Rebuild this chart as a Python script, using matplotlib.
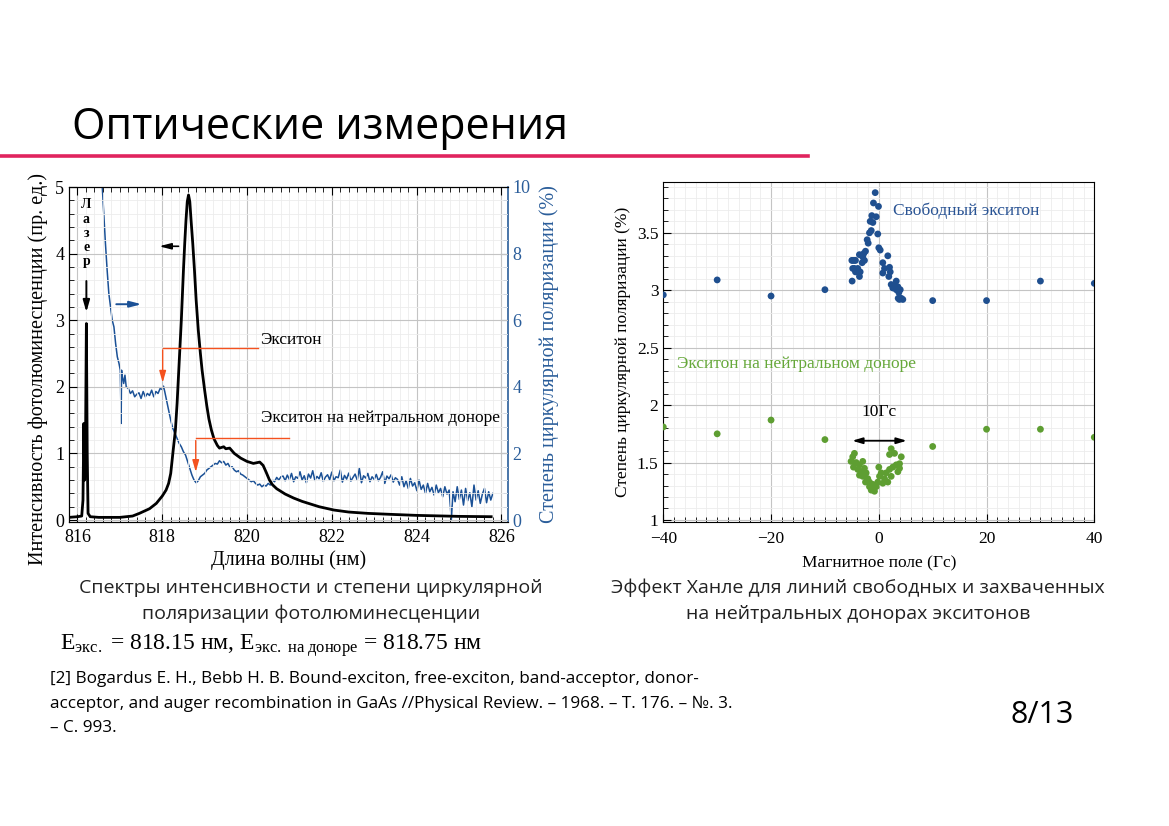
import numpy as np
import matplotlib
matplotlib.use('Agg')
import matplotlib.pyplot as plt
from matplotlib.ticker import MultipleLocator

SERIF = ['Liberation Serif', 'DejaVu Serif']
SANS = ['Open Sans', 'DejaVu Sans']

plt.rcParams['font.family'] = SERIF
plt.rcParams['mathtext.fontset'] = 'custom'
plt.rcParams['mathtext.rm'] = 'Liberation Serif'
plt.rcParams['mathtext.it'] = 'Liberation Serif:italic'
plt.rcParams['axes.unicode_minus'] = True

BLUE = '#1f4f8f'
GREEN = '#5e9e32'
ORANGE = '#f4511e'

# ---------- PL intensity spectrum (left axis) ----------
pl_wl = [815.8, 816.0, 816.1, 816.13, 816.15, 816.17, 816.19, 816.21, 816.23, 816.25,
         816.3, 816.5, 817.0, 817.3, 817.46, 817.7, 817.86, 818.0, 818.09, 818.15,
         818.2, 818.25, 818.31, 818.35, 818.39, 818.45, 818.5, 818.53, 818.56, 818.59,
         818.62, 818.65, 818.68, 818.72, 818.76, 818.8, 818.85, 818.9, 818.94, 819.0,
         819.05, 819.1, 819.16, 819.22, 819.3, 819.35, 819.45, 819.5, 819.59, 819.7,
         819.85, 820.0, 820.15, 820.3, 820.38, 820.45, 820.53, 820.6, 820.7, 820.8,
         820.9, 821.1, 821.3, 821.5, 821.7, 822.05, 822.4, 822.85, 823.4, 824.0,
         825.0, 825.76]
pl_int = [0.04, 0.05, 0.06, 0.3, 1.45, 0.6, 1.2, 2.95, 1.0, 0.1,
          0.05, 0.04, 0.04, 0.06, 0.1, 0.17, 0.25, 0.36, 0.45, 0.55,
          0.7, 1.0, 1.35, 1.75, 2.25, 3.0, 3.75, 4.15, 4.5, 4.78,
          4.88, 4.78, 4.5, 4.15, 3.75, 3.3, 2.85, 2.5, 2.25, 1.95,
          1.72, 1.52, 1.35, 1.22, 1.12, 1.08, 1.1, 1.07, 1.08, 1.0,
          0.93, 0.88, 0.85, 0.87, 0.82, 0.72, 0.6, 0.53, 0.47, 0.43,
          0.39, 0.33, 0.28, 0.24, 0.2, 0.15, 0.12, 0.1, 0.085, 0.07,
          0.055, 0.05]

# ---------- circular polarization degree (right axis, %) ----------
pol_wl_a = [816.55, 816.585, 816.62, 816.66, 816.70, 816.74, 816.78, 816.82, 816.86, 816.90,
            816.94, 816.98, 817.01, 817.03, 817.04, 817.06, 817.09, 817.12, 817.15, 817.2,
            817.25, 817.3, 817.35, 817.4, 817.45, 817.5, 817.55, 817.6, 817.65, 817.7,
            817.75, 817.8, 817.85, 817.9, 817.95, 818.0, 818.03, 818.06, 818.1, 818.15,
            818.2, 818.25, 818.3, 818.35, 818.4, 818.45, 818.5, 818.55, 818.6, 818.65,
            818.7, 818.75, 818.8, 818.85, 818.9, 818.95, 819.0, 819.05, 819.1, 819.15,
            819.2, 819.25, 819.3, 819.35, 819.4, 819.45, 819.5, 819.55, 819.6, 819.65,
            819.7, 819.75, 819.8, 819.85, 819.9, 819.95, 820.0, 820.05, 820.1, 820.15,
            820.2, 820.25, 820.3, 820.35, 820.4, 820.45, 820.5, 820.55, 820.6, 820.65,
            820.7, 820.75, 820.8]
pol_a = [10.6, 10.0, 9.2, 8.3, 7.5, 6.8, 6.4, 6.0, 5.8, 5.3,
         4.9, 4.7, 4.5, 2.9, 4.5, 4.3, 4.1, 4.35, 4.0, 3.95,
         3.8, 3.88, 3.7, 3.78, 3.82, 3.65, 3.86, 3.7, 3.8, 3.74,
         3.9, 3.7, 3.86, 3.8, 3.95, 3.92, 4.02, 3.85, 3.6, 3.3,
         3.0, 2.75, 2.6, 2.45, 2.3, 2.2, 2.05, 1.95, 1.75, 1.55,
         1.35, 1.2, 1.12, 1.18, 1.3, 1.35, 1.4, 1.5, 1.55, 1.6,
         1.65, 1.7, 1.68, 1.78, 1.72, 1.76, 1.65, 1.7, 1.58, 1.6,
         1.5, 1.45, 1.48, 1.38, 1.35, 1.3, 1.25, 1.2, 1.15, 1.18,
         1.1, 1.05, 1.08, 1.0, 1.05, 1.02, 1.1, 1.05, 1.2, 1.15,
         1.28, 1.2, 1.3]
pol_b = [1.32, 1.18, 1.35, 1.22, 1.40, 1.15, 1.30, 1.25, 1.45, 1.20,
         1.33, 1.12, 1.38, 1.26, 1.48, 1.19, 1.31, 1.24, 1.42, 1.16,
         1.29, 1.36, 1.21, 1.44, 1.18, 1.30, 1.27, 1.50, 1.14, 1.34,
         1.23, 1.41, 1.17, 1.28, 1.38, 1.20, 1.55, 1.12, 1.33, 1.26,
         1.40, 1.15, 1.30, 1.22, 1.37, 1.18, 1.28, 1.45, 1.10, 1.32,
         1.24, 1.36, 1.14, 1.27]
pol_c = [1.22, 1.05, 1.30, 1.00, 1.18, 0.95, 1.25, 1.02, 1.12, 0.88,
         1.20, 0.92, 1.05, 0.80, 1.10, 0.85, 0.98, 0.75, 1.05, 0.82,
         0.95, 0.70, 1.00, 0.78, 0.90, 0.0]
pol_d = [0.85, 0.55, 1.00, 0.62, 0.90, 0.45, 0.95, 0.58, 0.82, 0.40,
         1.05, 0.60, 0.88, 0.50, 0.78, 0.95, 0.52, 0.85, 0.60, 0.80]
pol_wl = np.concatenate([pol_wl_a,
                         np.linspace(820.85, 823.5, len(pol_b)),
                         np.linspace(823.55, 824.82, len(pol_c)),
                         np.linspace(824.86, 825.8, len(pol_d))])
pol_deg = np.concatenate([pol_a, pol_b, pol_c, pol_d])

# ---------- Hanle effect data ----------
free_B = [-40, -30, -20, -10, 10, 20, 30, 40,
          -0.67, -0.99, -0.06, -1.3, -0.48, -1.6, -1.1, -1.4, -1.73, -0.19,
          -2.16, -1.97, 0.0, 0.26, -2.47, -2.79, -2.98, -4.84, -4.33, -2.66,
          1.67, 0.74, -3.09, -4.52, -3.9, 1.06, 1.99, -4.33, -3.46, 0.74,
          2.12, -3.59, 1.86, -4.95, 3.24, 2.3, 2.92, 3.54, 2.6, 3.24,
          3.98, 3.72, 4.17, 3.6, -5.0, -4.5, -4.84, -4.3, -3.6, 3.83, 4.46]
free_P = [2.96, 3.09, 2.95, 3.005, 2.91, 2.91, 3.08, 3.06,
          3.85, 3.76, 3.73, 3.65, 3.64, 3.60, 3.59, 3.52, 3.50, 3.49,
          3.44, 3.41, 3.37, 3.35, 3.34, 3.32, 3.29, 3.26, 3.26, 3.26,
          3.30, 3.24, 3.24, 3.19, 3.19, 3.19, 3.20, 3.16, 3.16, 3.15,
          3.16, 3.12, 3.12, 3.08, 3.08, 3.05, 3.04, 3.03, 3.02, 3.005,
          3.005, 2.98, 2.93, 2.93, 3.26, 3.26, 3.19, 3.18, 3.31, 2.92, 2.92]
bound_B = [-40, -30, -20, -10, 10, 20, 30, 40,
           -4.52, -4.84, -5.15, -4.2, -4.7, -3.59, -2.98, -3.9, -3.28, -2.66,
           -2.35, -2.98, -2.05, -1.73, -1.12, -1.4, -0.48, -0.19, 0.13, 0.45,
           0.0, 1.06, 1.37, 1.67, 1.99, 2.3, 2.6, 3.24, 3.85, 3.54,
           1.99, 2.3, 2.92, 4.17, 3.85, 0.74, -0.8, -1.73, -2.47, -3.59]
bound_P = [1.81, 1.75, 1.87, 1.70, 1.64, 1.79, 1.79, 1.72,
           1.58, 1.55, 1.51, 1.50, 1.46, 1.48, 1.51, 1.44, 1.42, 1.45,
           1.41, 1.38, 1.36, 1.33, 1.31, 1.26, 1.29, 1.33, 1.38, 1.41,
           1.46, 1.36, 1.41, 1.33, 1.44, 1.38, 1.46, 1.48, 1.45, 1.42,
           1.57, 1.62, 1.58, 1.55, 1.49, 1.32, 1.25, 1.29, 1.33, 1.39]

W, H = 1169, 826
fig = plt.figure(figsize=(W / 100, H / 100), dpi=100)


def box(x0, y0, x1, y1):
    return [x0 / W, 1 - y1 / H, (x1 - x0) / W, (y1 - y0) / H]


# ================= left chart =================
ax1 = fig.add_axes(box(69, 187, 507.7, 521.7))
ax2 = ax1.twinx()
ax1.set_zorder(2)
ax1.patch.set_visible(False)

ax2.plot(pol_wl, pol_deg, color='#1b5196', lw=1.1)
ax1.plot(pl_wl, pl_int, color='k', lw=2.0)

ax1.set_xlim(815.8, 826.15)
ax1.set_ylim(-0.025, 5)
ax2.set_ylim(-0.05, 10)
ax1.xaxis.set_major_locator(MultipleLocator(2))
ax1.xaxis.set_minor_locator(MultipleLocator(0.2))
ax1.yaxis.set_major_locator(MultipleLocator(1))
ax1.yaxis.set_minor_locator(MultipleLocator(0.2))
ax2.yaxis.set_major_locator(MultipleLocator(2))
ax2.yaxis.set_minor_locator(MultipleLocator(0.4))
ax1.grid(which='major', color='#c4c4c4', lw=0.8)
ax1.grid(which='minor', color='#ececec', lw=0.6)
ax1.tick_params(which='both', direction='in', top=True, right=False, labelsize=13)
ax1.tick_params(which='major', length=6)
ax1.tick_params(which='minor', length=3.5)
ax1.tick_params(axis='x', pad=5)
ax2.tick_params(which='both', direction='in', colors='#2a5d9a', labelsize=13)
ax2.tick_params(which='major', length=6)
ax2.tick_params(which='minor', length=3.5)
ax1.spines['right'].set_visible(False)
ax2.spines['right'].set_color('#2a5d9a')
ax2.spines['right'].set_linewidth(1.2)
ax1.set_xlabel('Длина волны (нм)', fontsize=14.5, labelpad=3)
ax1.set_ylabel('Интенсивность фотолюминесценции (пр. ед.)', fontsize=14.5)
ax1.yaxis.set_label_coords(-0.048, 0.455)
ax2.set_ylabel('Степень циркулярной поляризации (%)', fontsize=14.5,
               color='#2a5d9a', labelpad=6)

# annotations
ax1.text(816.21, 4.83, '\n'.join('Лазер'), fontsize=10, fontweight='bold',
         ha='center', va='top', linespacing=1.12)
ax1.annotate('', xy=(816.21, 3.08), xytext=(816.21, 3.63),
             arrowprops=dict(arrowstyle='-|>,head_length=0.7,head_width=0.2',
                             color='k', lw=1.4))
ax1.annotate('', xy=(817.86, 4.11), xytext=(818.45, 4.11),
             arrowprops=dict(arrowstyle='-|>,head_length=0.7,head_width=0.18',
                             color='k', lw=1.2))
ax1.annotate('', xy=(817.58, 3.24), xytext=(816.85, 3.24),
             arrowprops=dict(arrowstyle='-|>,head_length=0.7,head_width=0.18',
                             color='#1b5196', lw=1.4))
ax1.plot([818.01, 820.25], [2.59, 2.59], color=ORANGE, lw=1.0)
ax1.annotate('', xy=(818.01, 2.02), xytext=(818.01, 2.595),
             arrowprops=dict(arrowstyle='-|>,head_length=0.7,head_width=0.2',
                             color=ORANGE, lw=1.0))
ax1.plot([818.79, 821.0], [1.23, 1.23], color=ORANGE, lw=1.0)
ax1.annotate('', xy=(818.79, 0.68), xytext=(818.79, 1.235),
             arrowprops=dict(arrowstyle='-|>,head_length=0.7,head_width=0.2',
                             color=ORANGE, lw=1.0))
ax1.text(820.3, 2.7, 'Экситон', fontsize=12.5, va='center')
ax1.text(820.33, 1.53, 'Экситон на нейтральном доноре', fontsize=12.5, va='center')

# ================= right chart =================
ax3 = fig.add_axes(box(663.3, 182.3, 1094.3, 521.7))
ax3.scatter(free_B, free_P, s=24, color=BLUE, edgecolors='none', zorder=3)
ax3.scatter(bound_B, bound_P, s=24, color=GREEN, edgecolors='none', zorder=3)
ax3.set_xlim(-40, 40)
ax3.set_ylim(0.985, 3.94)
ax3.xaxis.set_major_locator(MultipleLocator(20))
ax3.xaxis.set_minor_locator(MultipleLocator(2))
ax3.yaxis.set_major_locator(MultipleLocator(0.5))
ax3.yaxis.set_minor_locator(MultipleLocator(0.1))
ax3.yaxis.set_major_formatter(lambda v, p: f'{v:g}')
ax3.grid(which='major', color='#c4c4c4', lw=0.8)
ax3.grid(which='minor', color='#ececec', lw=0.6)
ax3.set_axisbelow(True)
ax3.tick_params(which='both', direction='in', labelsize=12.5)
ax3.tick_params(which='major', length=6)
ax3.tick_params(which='minor', length=3.5)
ax3.tick_params(axis='x', pad=7)
ax3.set_xlabel('Магнитное поле (Гс)', fontsize=12.5, labelpad=6)
ax3.set_ylabel('Степень циркулярной поляризации (%)', fontsize=12.5, labelpad=4)
ax3.text(2.55, 3.69, 'Свободный экситон', fontsize=12.5, color='#2a5494', va='center')
ax3.text(-37.45, 2.36, 'Экситон на нейтральном доноре', fontsize=12.5,
         color='#66a83a', va='center')
ax3.annotate('', xy=(-5.45, 1.69), xytext=(5.7, 1.69),
             arrowprops=dict(arrowstyle='<|-|>,head_length=0.6,head_width=0.18',
                             color='k', lw=1.3))
ax3.text(0.1, 1.94, '10Гс', fontsize=12.5, ha='center', va='center')

# ================= slide text =================
fig.text(72 / W, 1 - 128 / H, 'Оптические измерения', family=SANS, fontsize=31,
         va='center', ha='left')
fig.add_artist(plt.Line2D([0, 808 / W], [1 - 156 / H, 1 - 156 / H],
                          color='#e0245e', lw=2.6))
for txt, cx, cy in [('Спектры интенсивности и степени циркулярной', 311, 588),
                    ('поляризации фотолюминесценции', 311, 614),
                    ('Эффект Ханле для линий свободных и захваченных', 858, 588),
                    ('на нейтральных донорах экситонов', 858, 614)]:
    fig.text(cx / W, 1 - cy / H, txt, family=SANS, fontsize=14, ha='center',
             va='center', color='#222222')
fig.text(60 / W, 1 - 646 / H,
         r'E$_{\mathrm{экс.}}$ = 818.15 нм, E$_{\mathrm{экс.\ на\ доноре}}$ = 818.75 нм',
         fontsize=17, ha='left', va='center')
ref_lines = ['[2] Bogardus E. H., Bebb H. B. Bound-exciton, free-exciton, band-acceptor, donor-',
             'acceptor, and auger recombination in GaAs //Physical Review. – 1968. – Т. 176. – №. 3.',
             '– С. 993.']
for i, line in enumerate(ref_lines):
    fig.text(50 / W, 1 - (679 + 24.5 * i) / H, line, family=SANS, fontsize=12.3,
             ha='left', va='center')
fig.text(1042 / W, 1 - 715 / H, '8/13', family=SANS, fontsize=22,
         ha='center', va='center')

fig.savefig('out.png', dpi=100)
